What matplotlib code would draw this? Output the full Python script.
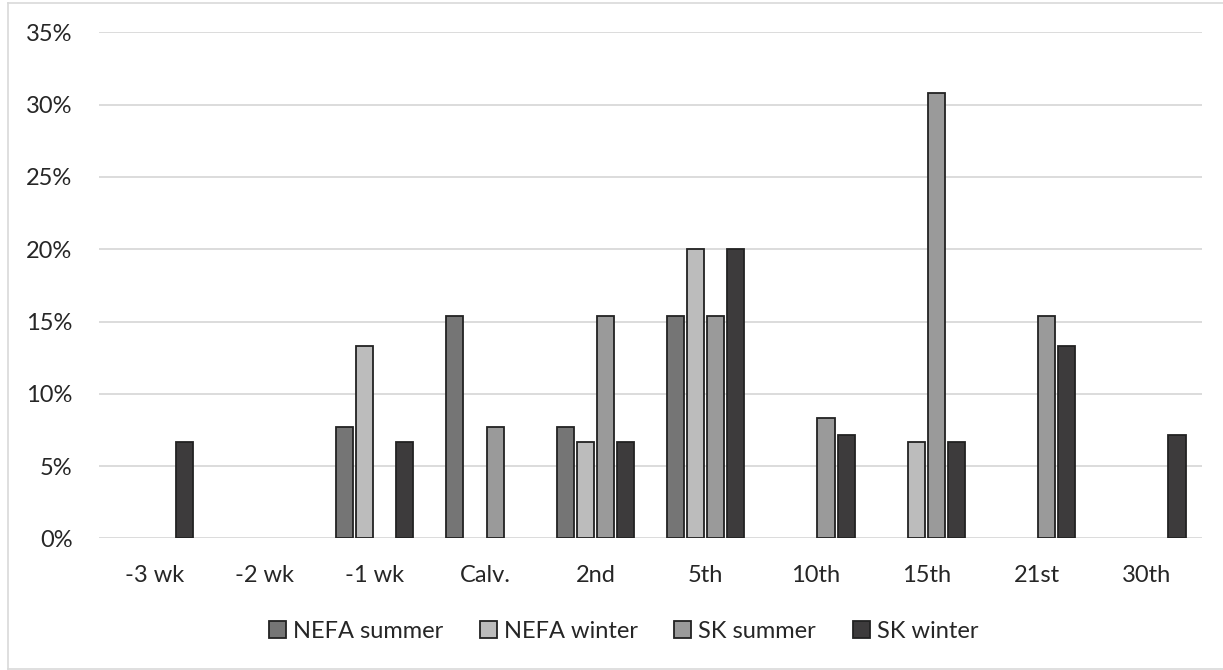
import matplotlib.pyplot as plt
import matplotlib.lines as mlines
import numpy as np
from matplotlib.ticker import PercentFormatter

plt.rcParams["font.family"] = ["Lato", "DejaVu Sans"]

# sampling days relative to calving
days = ["-3 wk", "-2 wk", "-1 wk", "Calv.", "2nd", "5th", "10th", "15th", "21st", "30th"]

# share of cows (%) first exceeding the threshold on each day
nefa_summer = [0, 0, 7.69, 15.38, 7.69, 15.38, 0, 0, 0, 0]
nefa_winter = [0, 0, 13.33, 0, 6.67, 20.0, 0, 6.67, 0, 0]
sk_summer = [0, 0, 0, 7.69, 15.38, 15.38, 8.33, 30.77, 15.38, 0]
sk_winter = [6.67, 0, 6.67, 0, 6.67, 20.0, 7.14, 6.67, 13.33, 7.14]

series = [
    ("NEFA summer", nefa_summer, "#757575"),
    ("NEFA winter", nefa_winter, "#bcbcbc"),
    ("SK summer", sk_summer, "#9a9a9a"),
    ("SK winter", sk_winter, "#3d3b3c"),
]

W, H = 1223, 670
fig = plt.figure(figsize=(W / 100, H / 100), dpi=100)
ax = fig.add_axes([99 / W, 1 - 538.4 / H, (1202 - 99) / W, (538.4 - 32.3) / H])

x = np.arange(len(days))
step = 0.182
width = 0.155
for i, (name, vals, color) in enumerate(series):
    vals = np.array(vals)
    mask = vals > 0
    ax.bar(x[mask] + (i - 1.5) * step, vals[mask], width=width, color=color,
           edgecolor="#222222", linewidth=1.3, label=name, zorder=3)

ax.set_xlim(-0.5, len(days) - 0.5)
ax.set_ylim(0, 35)
ax.set_yticks(np.arange(0, 36, 5))
ax.yaxis.set_major_formatter(PercentFormatter(decimals=0))
ax.set_xticks(x)
ax.set_xticklabels(days)
ax.tick_params(axis="both", length=0, labelsize=17, colors="#262626")
ax.tick_params(axis="x", pad=19)
ax.tick_params(axis="y", pad=19)
ax.yaxis.grid(True, color="#d9d9d9", linewidth=1.3, zorder=0)
ax.set_axisbelow(True)
for side in ["top", "right", "left", "bottom"]:
    ax.spines[side].set_visible(False)

leg = fig.legend(loc="center", bbox_to_anchor=(623.5 / W, 1 - 631 / H), ncol=4,
                 frameon=False, fontsize=17, handlelength=0.72, handleheight=0.72,
                 handletextpad=0.3, columnspacing=1.55, borderpad=0)
for t in leg.get_texts():
    t.set_color("#262626")

# light chart-area border
border = "#d9d9d9"
fig.add_artist(mlines.Line2D([8 / W, 8 / W], [1 - 669 / H, 1 - 3 / H], color=border, lw=1.2))
fig.add_artist(mlines.Line2D([8 / W, 1], [1 - 3 / H, 1 - 3 / H], color=border, lw=1.2))
fig.add_artist(mlines.Line2D([8 / W, 1], [1 - 669 / H, 1 - 669 / H], color=border, lw=1.2))

fig.savefig("out.png", dpi=100, facecolor="white")
